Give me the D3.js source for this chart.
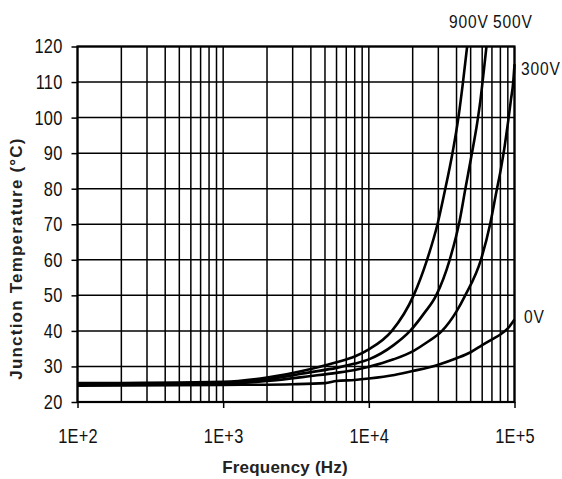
<!DOCTYPE html>
<html>
<head>
<meta charset="utf-8">
<script src="https://cdn.jsdelivr.net/npm/d3@7"></script>
<style>
  html, body { margin: 0; padding: 0; background: #fff; }
  svg { display: block; }
  .tick text, .curve-label { font-family: "Liberation Sans", Arial, sans-serif; font-size: 20px; fill: #111; }
  .axis-title { font-family: "Liberation Sans", Arial, sans-serif; font-weight: bold; font-size: 17px; fill: #222; }
</style>
</head>
<body>
<svg id="chart" width="562" height="479"></svg>
<script>
// Axis ticks
const xTickValues = [1e2, 1e3, 1e4, 1e5];
const xTickLabels = ["1E+2", "1E+3", "1E+4", "1E+5"];
const yTickValues = [20, 30, 40, 50, 60, 70, 80, 90, 100, 110, 120];

// Junction temperature (°C) versus switching frequency (Hz), one pair of arrays per bias voltage
const seriesNames = ["900V", "500V", "300V", "0V"];

const freq900 = [100, 1000, 2000, 4000, 6000, 8000, 10000, 14400, 20300, 25100, 29600, 33500, 37500, 41200, 44300, 47300];
const temp900 = [25.3, 25.7, 26.9, 29.3, 31.2, 32.8, 34.8, 40, 50, 60, 70, 80, 90, 100, 110, 120];

const freq500 = [100, 1000, 2000, 4000, 6000, 8000, 10000, 14800, 19200, 24000, 29000, 35900, 42000, 46000, 50500, 55400, 58400, 61500, 64200];
const temp500 = [25.1, 25.4, 26.4, 28.4, 29.6, 30.8, 32.0, 36.0, 40, 45, 50, 60, 71, 80, 89, 98.4, 105, 113, 120];

const freq300 = [100, 1000, 2000, 4000, 6000, 8000, 10000, 14800, 20300, 25100, 31800, 40000, 45900, 58800, 68000, 75000, 81000, 86000, 90500, 94500, 98000, 100000];
const temp300 = [24.9, 25.1, 25.9, 27.3, 28.2, 29.0, 29.9, 32.0, 34.4, 36.8, 40, 45.5, 50, 60, 70, 79, 86, 92.5, 99, 105, 110, 115];

const freq0 = [100, 1000, 3000, 5000, 6000, 8000, 10000, 15000, 20000, 30000, 40000, 50000, 60000, 70000, 80000, 90000, 100000];
const temp0 = [24.6, 24.8, 25.0, 25.3, 25.9, 26.2, 26.6, 27.6, 28.7, 30.5, 32.3, 34.0, 36.0, 37.6, 39.0, 40.7, 43.2];

const series = [
  { name: seriesNames[0], f: freq900, t: temp900 },
  { name: seriesNames[1], f: freq500, t: temp500 },
  { name: seriesNames[2], f: freq300, t: temp300 },
  { name: seriesNames[3], f: freq0, t: temp0 }
];

const svg = d3.select("#chart");
const plot = { left: 77.5, right: 514.5, top: 46.5, bottom: 402 };

const x = d3.scaleLog().domain([1e2, 1e5]).range([plot.left, plot.right]);
const y = d3.scaleLinear().domain([20, 120]).range([plot.bottom, plot.top]);

// Horizontally condensed lettering: squeeze glyphs while keeping the anchor point in place
const squeeze = 0.82;
function condense(sel) {
  sel.each(function () {
    const t = d3.select(this);
    const x0 = +t.attr("x") || 0;
    t.attr("x", x0 / squeeze).attr("transform", `scale(${squeeze},1)`);
  });
}

// Log grid: every integer multiple within each decade
const gridX = [];
for (let d = 1e2; d < 1e5; d *= 10) for (let k = 1; k <= 9; k++) gridX.push(d * k);
gridX.push(1e5);

const grid = svg.append("g").attr("stroke", "#000").attr("stroke-width", 1.5);
grid.selectAll("line.v").data(gridX).join("line")
  .attr("class", "v")
  .attr("x1", d => x(d)).attr("x2", d => x(d))
  .attr("y1", plot.top).attr("y2", plot.bottom);
grid.selectAll("line.h").data(yTickValues).join("line")
  .attr("class", "h")
  .attr("x1", plot.left).attr("x2", plot.right)
  .attr("y1", d => y(d)).attr("y2", d => y(d));

// Frame
svg.append("rect")
  .attr("x", plot.left).attr("y", plot.top)
  .attr("width", plot.right - plot.left).attr("height", plot.bottom - plot.top)
  .attr("fill", "none").attr("stroke", "#000").attr("stroke-width", 2.2);

// Axes
const xAxis = d3.axisBottom(x).tickValues(xTickValues)
  .tickFormat((d, i) => xTickLabels[i]).tickSize(6).tickPadding(21);
const gx = svg.append("g").attr("transform", `translate(0,${plot.bottom})`).call(xAxis);
gx.select(".domain").remove();
gx.selectAll(".tick line").attr("stroke", "#000").attr("stroke-width", 1.5);

const yAxis = d3.axisLeft(y).tickValues(yTickValues).tickSize(6).tickPadding(9);
const gy = svg.append("g").attr("transform", `translate(${plot.left},0)`).call(yAxis);
gy.select(".domain").remove();
gy.selectAll(".tick line").attr("stroke", "#000").attr("stroke-width", 1.5);

svg.selectAll(".tick text").attr("fill", "#111").attr("font-family", null).attr("font-size", null)
  .style("letter-spacing", "0.3px")
  .call(condense);

// Curves
svg.append("clipPath").attr("id", "plot-clip").append("rect")
  .attr("x", plot.left).attr("y", plot.top - 1.5)
  .attr("width", plot.right - plot.left + 1.5).attr("height", plot.bottom - plot.top + 1.5);

const line = d3.line()
  .x(d => x(d[0]))
  .y(d => y(d[1]))
  .curve(d3.curveMonotoneX);

svg.append("g").attr("clip-path", "url(#plot-clip)")
  .selectAll("path").data(series).join("path")
  .attr("d", s => line(s.f.map((f, i) => [f, s.t[i]])))
  .attr("fill", "none").attr("stroke", "#000").attr("stroke-width", 2.6)
  .attr("stroke-linejoin", "round");

// Curve labels
const labelPos = [
  { x: 449, y: 28.5 },
  { x: 493, y: 28.5 },
  { x: 521, y: 75 },
  { x: 524, y: 323 }
];
svg.selectAll("text.curve-label").data(series).join("text")
  .attr("class", "curve-label")
  .attr("x", (d, i) => labelPos[i].x)
  .attr("y", (d, i) => labelPos[i].y)
  .style("font-size", "19px")
  .style("letter-spacing", "1px")
  .text(d => d.name)
  .call(condense);

// Axis titles
svg.append("text").attr("class", "axis-title")
  .attr("x", (plot.left + plot.right) / 2 - 11).attr("y", 473)
  .attr("text-anchor", "middle")
  .style("letter-spacing", "0.2px")
  .text("Frequency (Hz)");

svg.append("text").attr("class", "axis-title")
  .attr("transform", `translate(22,${(137 + 380) / 2}) rotate(-90)`)
  .attr("text-anchor", "middle")
  .style("letter-spacing", "1.2px")
  .text("Junction Temperature (°C)");
</script>
</body>
</html>
